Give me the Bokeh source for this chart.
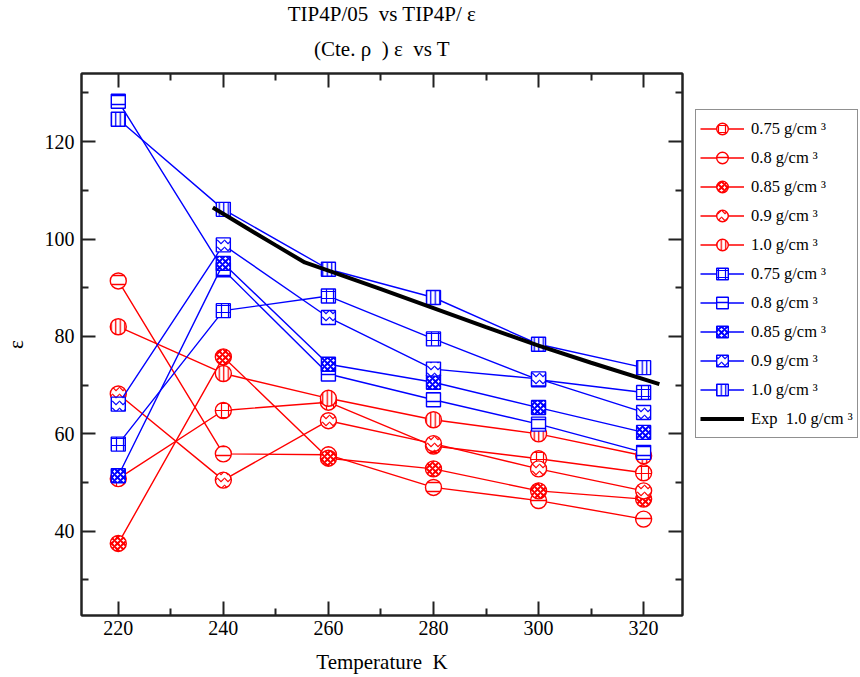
from bokeh.plotting import figure
from bokeh.layouts import row
from bokeh.models import Range1d, FixedTicker, LinearAxis, Title, Legend, LegendItem
from bokeh.embed import file_html
from bokeh.resources import INLINE

# ---------------- data ----------------
temps = [220, 240, 260, 280, 300, 320]

# TIP4P/05 (red circles)
red_075 = [50.8, 64.8, 66.5, 57.5, 54.9, 52.0]
red_080 = [91.4, 55.9, 55.7, 49.0, 46.3, 42.5]
red_085 = [37.5, 75.8, 55.0, 52.8, 48.3, 46.6]
red_090 = [68.2, 50.5, 62.7, 58.0, 52.8, 48.3]
red_100 = [82.0, 72.4, 67.3, 62.9, 60.0, 55.5]

# TIP4P/eps (blue squares)
blue_075 = [57.9, 85.3, 88.3, 79.5, 71.1, 68.5]
blue_080 = [128.3, 93.7, 72.3, 67.0, 62.0, 56.2]
blue_085 = [51.4, 95.0, 74.3, 70.6, 65.4, 60.3]
blue_090 = [66.1, 98.8, 83.9, 73.3, 71.3, 64.4]
blue_100 = [124.6, 106.1, 93.8, 88.0, 78.4, 73.6]

# experiment, 1.0 g/cm3
exp_T = [238, 245, 250, 255.5, 260, 270, 280, 290, 300, 310, 323]
exp_eps = [106.5, 101.9, 98.7, 95.2, 93.5, 89.7, 85.8, 81.9, 78.1, 74.6, 70.2]

densities = ["0.75", "0.8", "0.85", "0.9", "1.0"]
x_ticks = [220, 240, 260, 280, 300, 320]
x_minor = [210, 230, 250, 270, 290, 310, 330]
y_ticks = [40, 60, 80, 100, 120]
y_minor = [30, 50, 70, 90, 110, 130]

NB = "\u00a0"
TITLE1 = f"TIP4P/05{NB} vs TIP4P/ ε"
TITLE2 = f"(Cte. ρ{NB} ) ε{NB} vs T"
XLABEL = f"Temperature{NB} K"
YLABEL = "ε"

FONT = "Liberation Serif"
RED = "#FF0000"
BLUE = "#0000FF"
AX = "#222222"

p = figure(width=686, height=677, output_backend="svg", toolbar_location=None,
           x_range=Range1d(213, 327.4), y_range=Range1d(22.7, 134),
           min_border_left=79, min_border_right=4, min_border_top=73,
           min_border_bottom=62, title=TITLE1)
p.grid.visible = False
p.outline_line_color = AX
p.outline_line_width = 2
p.background_fill_color = "white"
p.border_fill_color = "white"

p.title.text_font = FONT
p.title.text_font_size = "21px"
p.title.text_font_style = "normal"
p.title.align = "center"
p.title.text_color = "black"
p.title.standoff = -9


def style_axis(ax, ticks, minor, labels=True):
    ax.ticker = FixedTicker(ticks=ticks, minor_ticks=minor)
    ax.axis_line_color = AX
    ax.axis_line_width = 2
    ax.major_tick_line_color = AX
    ax.major_tick_line_width = 2
    ax.minor_tick_line_color = AX
    ax.minor_tick_line_width = 2
    ax.major_tick_in = 14
    ax.major_tick_out = 0
    ax.minor_tick_in = 7
    ax.minor_tick_out = 0
    if labels:
        ax.major_label_text_font = FONT
        ax.major_label_text_font_size = "20px"
        ax.major_label_text_color = "black"
        ax.axis_label_text_font = FONT
        ax.axis_label_text_font_size = "21px"
        ax.axis_label_text_font_style = "normal"
        ax.axis_label_text_color = "black"
    else:
        ax.major_label_text_font_size = "1px"
        ax.major_label_text_color = None
        ax.major_label_standoff = 0


xa = p.xaxis[0]
style_axis(xa, x_ticks, x_minor)
xa.axis_label = XLABEL
xa.major_label_standoff = 5
xa.axis_label_standoff = 12

ya = p.yaxis[0]
style_axis(ya, y_ticks, y_minor)
ya.axis_label = YLABEL
ya.major_label_standoff = 7
ya.axis_label_standoff = 14

top_ax = LinearAxis()
style_axis(top_ax, x_ticks, x_minor, labels=False)
p.add_layout(top_ax, "above")
right_ax = LinearAxis()
style_axis(right_ax, y_ticks, y_minor, labels=False)
p.add_layout(right_ax, "right")

t2 = Title(text=TITLE2, align="center", text_font=FONT, text_font_size="21px",
           text_font_style="normal", text_color="black", standoff=26)
p.add_layout(t2, "above")

hatches = [("+", 7, 1.2), ("-", 9, 1.5), ("x", 6, 2.0), ("v", 7, 1.2), ("|", 4.5, 1.3)]
red_sets = [red_075, red_080, red_085, red_090, red_100]
blue_sets = [blue_075, blue_080, blue_085, blue_090, blue_100]

# legend panel: a second figure whose sample glyphs lie outside its own view
lg = figure(width=174, height=677, output_backend="svg", toolbar_location=None,
            x_range=Range1d(0, 1), y_range=Range1d(0, 1),
            min_border_left=0, min_border_right=0, min_border_top=0, min_border_bottom=0)
lg.axis.visible = False
lg.grid.visible = False
lg.outline_line_color = None
lg.background_fill_color = "white"
lg.border_fill_color = "white"

items = []
for color, marker, size, sets in [(RED, "circle", 16, red_sets), (BLUE, "square", 14, blue_sets)]:
    for d, vals, (hp, hs, hw) in zip(densities, sets, hatches):
        p.line(temps, vals, line_color=color, line_width=1.4)
        p.scatter(temps, vals, marker=marker, size=size, line_color=color,
                  line_width=1.4, fill_color="white", hatch_pattern=hp,
                  hatch_scale=hs, hatch_weight=hw, hatch_color=color)
        llr = lg.line(temps[:1], vals[:1], line_color=color, line_width=1.4)
        lsr = lg.scatter(temps[:1], vals[:1], marker=marker, size=size, line_color=color,
                         line_width=1.4, fill_color="white", hatch_pattern=hp,
                         hatch_scale=hs, hatch_weight=hw, hatch_color=color)
        items.append(LegendItem(label=f"{d} g/cm ³", renderers=[llr, lsr]))

p.line(exp_T, exp_eps, line_color="black", line_width=4)
ler = lg.line(exp_T[:1], exp_eps[:1], line_color="black", line_width=4)
items.append(LegendItem(label=f"Exp{NB} 1.0 g/cm ³", renderers=[ler]))

legend = Legend(items=items, location=(9, 177), ncols=1)
legend.label_text_font = FONT
legend.label_text_font_size = "16.5px"
legend.label_text_color = "black"
legend.glyph_width = 44
legend.glyph_height = 29
legend.label_height = 22
legend.spacing = 0
legend.padding = 4
legend.margin = 0
legend.label_standoff = 7
legend.border_line_color = AX
legend.border_line_width = 1.5
legend.background_fill_color = "white"
legend.background_fill_alpha = 1
lg.add_layout(legend, "center")

layout = row(p, lg)
open("out.html", "w").write(file_html(layout, INLINE))
